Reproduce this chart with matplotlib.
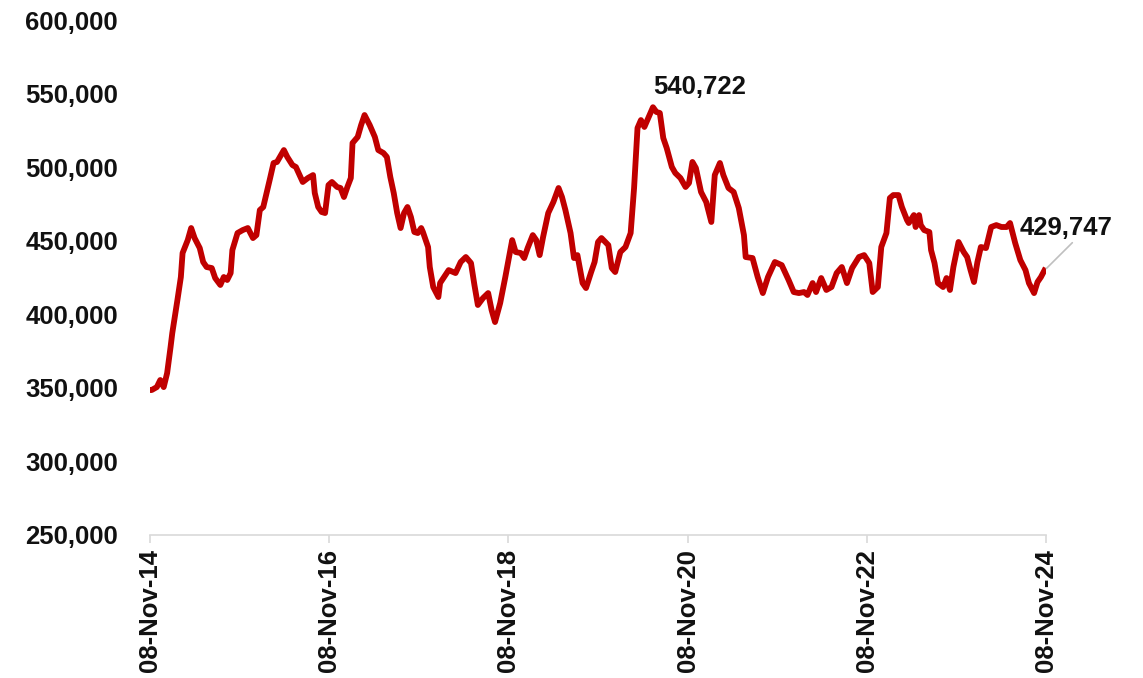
import numpy as np
import pandas as pd
import matplotlib
matplotlib.use('Agg')
import matplotlib.pyplot as plt
import matplotlib.dates as mdates


# weeks counted from 08-Nov-2014, and the weekly value at that week
weeks = [0, 1, 4, 6, 8, 10, 12, 13, 16, 18, 19, 22, 24, 26, 29, 31, 33, 36, 38, 41,
         43, 45, 47, 48, 51, 54, 57, 60, 62, 64, 66, 70, 72, 74, 78, 80, 83, 85, 89, 92,
         95, 96, 98, 100, 102, 104, 106, 109, 111, 113, 115, 117, 118, 121, 123, 125, 128, 131, 133, 136,
         138, 140, 142, 144, 146, 148, 150, 152, 154, 156, 158, 159, 162, 163, 165, 168, 169, 174, 178, 181,
         184, 187, 189, 191, 194, 197, 199, 201, 204, 207, 211, 213, 216, 218, 220, 223, 225, 227, 229, 232,
         235, 238, 240, 242, 245, 247, 249, 252, 254, 257, 259, 261, 263, 267, 269, 271, 274, 277, 280, 282,
         284, 286, 288, 291, 293, 295, 297, 299, 301, 304, 306, 309, 312, 314, 316, 318, 321, 324, 327, 329,
         332, 334, 337, 340, 343, 346, 347, 351, 354, 357, 360, 364, 368, 372, 375, 378, 381, 383, 386, 388,
         391, 394, 397, 400, 403, 406, 409, 413, 416, 419, 421, 424, 426, 429, 431, 433, 436, 438, 441, 442,
         445, 446, 448, 449, 451, 454, 455, 457, 459, 462, 464, 466, 468, 471, 474, 476, 478, 480, 482, 484,
         487, 490, 493, 496, 499, 501, 504, 507, 510, 512, 515, 517, 519, 521]

values = [348500, 348500, 350500, 355300, 350500, 360000, 377700, 387200, 409700, 425300,
          441600, 450400, 458600, 451800, 445000, 435500, 432100, 431400, 424600, 419900,
          425300, 423300, 428000, 443600, 455200, 457200, 458600, 451800, 453800, 470800,
          472900, 492600, 502800, 503500, 511600, 506900, 501400, 500100, 489900, 492600,
          494600, 482400, 472900, 469500, 468800, 487800, 489900, 486500, 485800, 479700,
          486500, 492600, 516400, 520500, 528600, 535400, 528600, 520500, 511600, 509600,
          506900, 493300, 482400, 468800, 458600, 468800, 472900, 466100, 455900, 455200,
          458600, 455900, 445700, 432100, 418500, 411700, 421200, 430000, 428000, 435500,
          438900, 434800, 419900, 406300, 411000, 414400, 402900, 394700, 407600, 425300,
          450400, 442300, 441600, 438200, 445000, 453800, 450400, 440200, 452500, 468800,
          476300, 485800, 479700, 470800, 455200, 438200, 440200, 421200, 417800, 428700,
          435500, 449100, 451800, 447000, 431400, 428700, 442300, 445700, 455200, 485800,
          526600, 532000, 527300, 535400, 540722, 537500, 536800, 519800, 513000, 500100,
          496000, 492600, 486500, 489200, 503500, 499400, 483100, 476300, 462700, 494600,
          502800, 494600, 485800, 483100, 472200, 453800, 438900, 438200, 425300, 414400,
          425300, 435500, 433400, 423300, 415100, 414400, 415100, 413100, 421200, 415100,
          424600, 416500, 418500, 428000, 432100, 421200, 431400, 438900, 440200, 434800,
          415100, 418500, 445700, 455200, 479000, 481000, 481000, 472900, 464000, 462000,
          467400, 459300, 467400, 460600, 457200, 455900, 443600, 434800, 421200, 418500,
          424600, 416500, 432100, 449100, 442300, 438900, 430000, 421900, 435500, 445700,
          445000, 459300, 460600, 459300, 459300, 462000, 448400, 436800, 430000, 421200,
          414400, 421900, 425300, 429747]

start = pd.Timestamp('2014-11-08')
tick_dates = ['2014-11-08', '2016-11-08', '2018-11-08', '2020-11-08', '2022-11-08', '2024-11-08']


def plotData(dates, vals):
    plt.rcParams['font.family'] = ['Liberation Sans', 'DejaVu Sans']
    fig = plt.figure(figsize=(11.43, 6.78), dpi=100)
    ax = fig.add_axes([0.1312, 0.211, 0.7838, 0.7595])

    ax.plot(dates, vals, color='#C00000', lw=4.2, solid_joinstyle='round')

    ax.set_xlim(pd.Timestamp(tick_dates[0]), pd.Timestamp(tick_dates[-1]))
    ax.set_ylim(250000, 600000)
    ax.set_yticks(np.arange(250000, 600001, 50000))
    ax.yaxis.set_major_formatter(plt.FuncFormatter(lambda v, p: '{:,.0f}'.format(v)))

    ax.set_xticks([pd.Timestamp(d) for d in tick_dates])
    ax.xaxis.set_major_formatter(mdates.DateFormatter('%d-%b-%y'))

    for s in ['top', 'right', 'left']:
        ax.spines[s].set_visible(False)
    ax.spines['bottom'].set_color('#D9D9D9')
    ax.spines['bottom'].set_linewidth(1.2)
    ax.tick_params(axis='x', length=6, width=1.2, color='#D9D9D9', pad=4,
                   labelrotation=90, labelsize=18.5, labelcolor='#111111')
    ax.tick_params(axis='y', length=0, pad=23, labelsize=18.5, labelcolor='#111111')
    for lab in ax.get_xticklabels() + ax.get_yticklabels():
        lab.set_fontweight('bold')

    # peak label
    i_max = int(np.argmax(vals))
    ax.annotate('{:,}'.format(vals[i_max]), xy=(dates[i_max], vals[i_max]),
                xytext=(0, 6), textcoords='offset points', ha='left', va='bottom',
                fontsize=18.5, fontweight='bold', color='#111111')

    # latest value with a leader line
    ax.annotate('{:,}'.format(vals[-1]), xy=(dates[-1], vals[-1]),
                xytext=(-18, 22), textcoords='offset points', ha='left', va='bottom',
                fontsize=18.5, fontweight='bold', color='#111111',
                arrowprops=dict(arrowstyle='-', color='#BFBFBF', lw=1.2,
                                shrinkA=0, shrinkB=2,
                                relpos=(0.6, 0)))

    fig.savefig('out.png', dpi=100)


def main():
    dates = start + pd.to_timedelta(np.array(weeks) * 7, unit='D')
    plotData(dates, values)


if __name__ == '__main__':
    main()
